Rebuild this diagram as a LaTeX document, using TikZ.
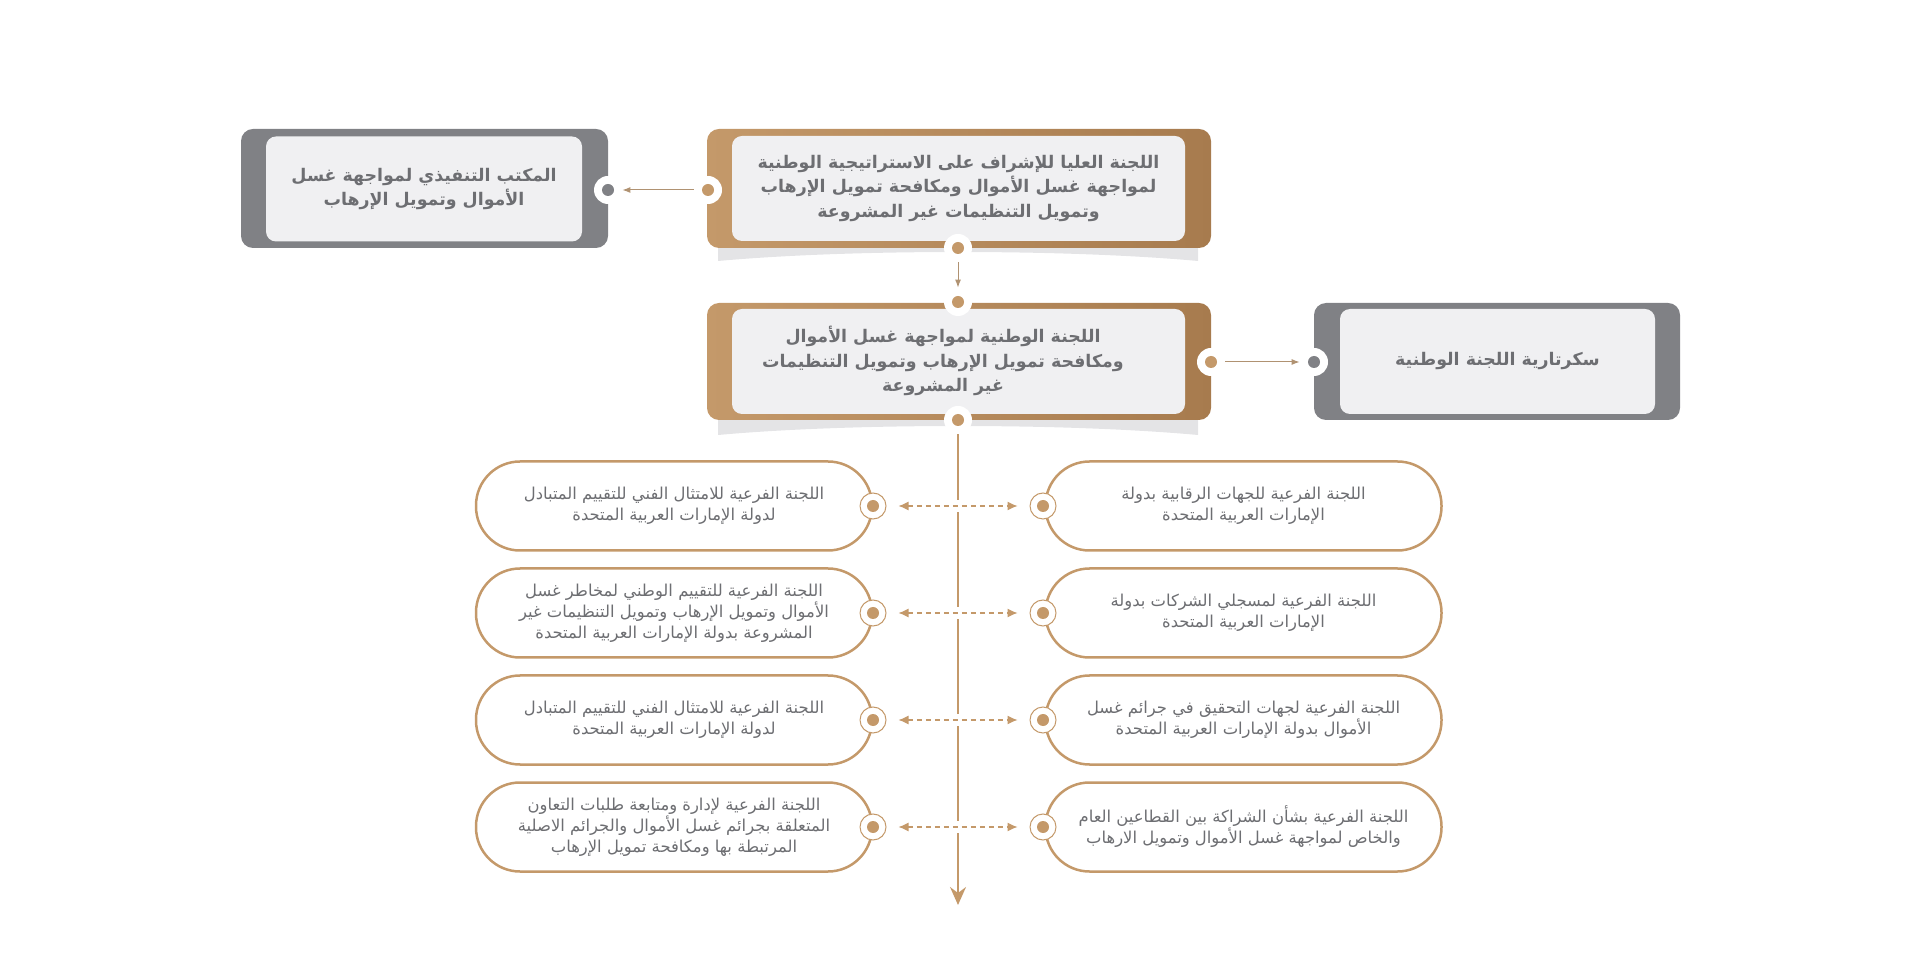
\documentclass[tikz,border=0pt]{standalone}
\usepackage{fontspec}
\usetikzlibrary{arrows.meta}
\TeXXeTstate=1
\newfontfamily\arabicfont[Script=Arabic]{DejaVu Sans}
\definecolor{gold}{HTML}{C4996A}
\definecolor{golddark}{HTML}{A77B4E}
\definecolor{slate}{HTML}{808185}
\definecolor{panel}{HTML}{F0F0F2}
\definecolor{shadowgrey}{HTML}{E4E4E6}
\definecolor{ink}{HTML}{6D6E72}
\newcommand\rl[1]{\beginR#1\endR}
\tikzset{
    frame/.style={rounded corners=6pt, minimum height=59.5pt, inner sep=0pt},
    goldframe/.style={frame, left color=gold, right color=golddark, minimum width=252pt},
    greyframe/.style={frame, fill=slate, minimum width=183.5pt},
    card/.style={fill=panel, rounded corners=5pt, minimum height=52.5pt, inner sep=0pt},
    cardtext/.style={align=center, text=ink, font=\arabicfont\bfseries\fontsize{8.7}{12.25}\selectfont},
    pill/.style={draw=gold, line width=1.25pt, fill=white, rounded corners=22pt,
        minimum width=198pt, minimum height=44.5pt, align=center, text=ink,
        font=\arabicfont\fontsize{8.2}{10.5}\selectfont},
    notch/.style={circle, fill=white, minimum size=14pt, inner sep=0pt,
        path picture={\fill[#1] (path picture bounding box.center) circle (3pt);}},
    ring/.style={circle, draw=gold, line width=0.5pt, fill=white, minimum size=13pt, inner sep=0pt,
        path picture={\fill[gold] (path picture bounding box.center) circle (3pt);}},
    thinarrow/.style={gold!70!slate, line width=0.5pt, -{Latex[length=4pt,width=3pt]}},
    dasharrow/.style={gold, line width=0.6pt, dash pattern=on 2.5pt off 2pt,
        {Latex[length=5pt,width=4.5pt]}-{Latex[length=5pt,width=4.5pt]}, shorten >=6pt, shorten <=6pt},
}
\begin{document}
\begin{tikzpicture}[x=0.5pt, y=-0.5pt]
    \useasboundingbox (0,0) rectangle (1921,961);
    % curled shadows under the two gold boxes
    \foreach \oy in {0,174}
        \fill[shadowgrey] (718,240+\oy) -- (718,261+\oy) .. controls (850,249+\oy) and (1066,249+\oy) .. (1198,261+\oy) -- (1198,240+\oy) -- cycle;
    % top row
    \node[goldframe] (hcomF) at (959,188.5) {};
    \node[card, minimum width=226.5pt, cardtext] (hcom) at (958.5,188.5)
        {\rl{اللجنة العليا للإشراف على الاستراتيجية الوطنية}\\\rl{لمواجهة غسل الأموال ومكافحة تمويل الإرهاب}\\\rl{وتمويل التنظيمات غير المشروعة}};
    \node[greyframe] (execF) at (424.5,188.5) {};
    \node[card, minimum width=158pt, cardtext] (exec) at (424,189)
        {\rl{المكتب التنفيذي لمواجهة غسل}\\\rl{الأموال وتمويل الإرهاب}};
    % second row
    \node[goldframe, minimum height=58.5pt] (ncomF) at (959,361.5) {};
    \node[card, minimum width=226.5pt] (ncom) at (958.5,361.5) {};
    \node[cardtext] (ncomT) at (943,361)
        {\rl{اللجنة الوطنية لمواجهة غسل الأموال}\\\rl{ومكافحة تمويل الإرهاب وتمويل التنظيمات}\\\rl{غير المشروعة}};
    \node[greyframe, minimum width=183pt, minimum height=58.5pt] (secrF) at (1497,361.5) {};
    \node[card, minimum width=157.5pt, cardtext] (secr) at (1497.5,361.5) {\rl{سكرتارية اللجنة الوطنية}};
    % connection points
    \node[notch=gold]  (hcomW) at (708,190) {};
    \node[notch=slate] (execE) at (608,190) {};
    \node[notch=gold]  (hcomS) at (958,248) {};
    \node[notch=gold]  (ncomN) at (958,302) {};
    \node[notch=gold]  (ncomE) at (1211,362) {};
    \node[notch=slate] (secrW) at (1314,362) {};
    \node[notch=gold]  (ncomS) at (958,420) {};
    \coordinate (trunkEnd) at (958,905);
    \draw[thinarrow] (hcomW) -- (execE);
    \draw[thinarrow] (hcomS) -- (ncomN);
    \draw[thinarrow] (ncomE) -- (secrW);
    \draw[gold, line width=1pt, -{Stealth[length=9pt, width=8pt, inset=3pt]}] (ncomS) -- (trunkEnd);
    % sub committees, left column
    \node[pill] (subL1) at (674,506) {\rl{اللجنة الفرعية للامتثال الفني للتقييم المتبادل}\\\rl{لدولة الإمارات العربية المتحدة}};
    \node[pill] (subL2) at (674,613) {\rl{اللجنة الفرعية للتقييم الوطني لمخاطر غسل}\\\rl{الأموال وتمويل الإرهاب وتمويل التنظيمات غير}\\\rl{المشروعة بدولة الإمارات العربية المتحدة}};
    \node[pill] (subL3) at (674,720) {\rl{اللجنة الفرعية للامتثال الفني للتقييم المتبادل}\\\rl{لدولة الإمارات العربية المتحدة}};
    \node[pill] (subL4) at (674,827) {\rl{اللجنة الفرعية لإدارة ومتابعة طلبات التعاون}\\\rl{المتعلقة بجرائم غسل الأموال والجرائم الاصلية}\\\rl{المرتبطة بها ومكافحة تمويل الإرهاب}};
    % sub committees, right column
    \node[pill] (subR1) at (1243.5,506) {\rl{اللجنة الفرعية للجهات الرقابية بدولة}\\\rl{الإمارات العربية المتحدة}};
    \node[pill] (subR2) at (1243.5,613) {\rl{اللجنة الفرعية لمسجلي الشركات بدولة}\\\rl{الإمارات العربية المتحدة}};
    \node[pill] (subR3) at (1243.5,720) {\rl{اللجنة الفرعية لجهات التحقيق في جرائم غسل}\\\rl{الأموال بدولة الإمارات العربية المتحدة}};
    \node[pill] (subR4) at (1243.5,827) {\rl{اللجنة الفرعية بشأن الشراكة بين القطاعين العام}\\\rl{والخاص لمواجهة غسل الأموال وتمويل الارهاب}};
    \foreach \i/\y in {1/506,2/613,3/720,4/827} {
        \node[ring] (ringL\i) at (873,\y) {};
        \node[ring] (ringR\i) at (1043,\y) {};
        \draw[white, line width=6pt, shorten >=30pt, shorten <=30pt] (ringL\i) -- (ringR\i);
        \draw[dasharrow] (ringL\i) -- (ringR\i);
    }
\end{tikzpicture}
\end{document}
